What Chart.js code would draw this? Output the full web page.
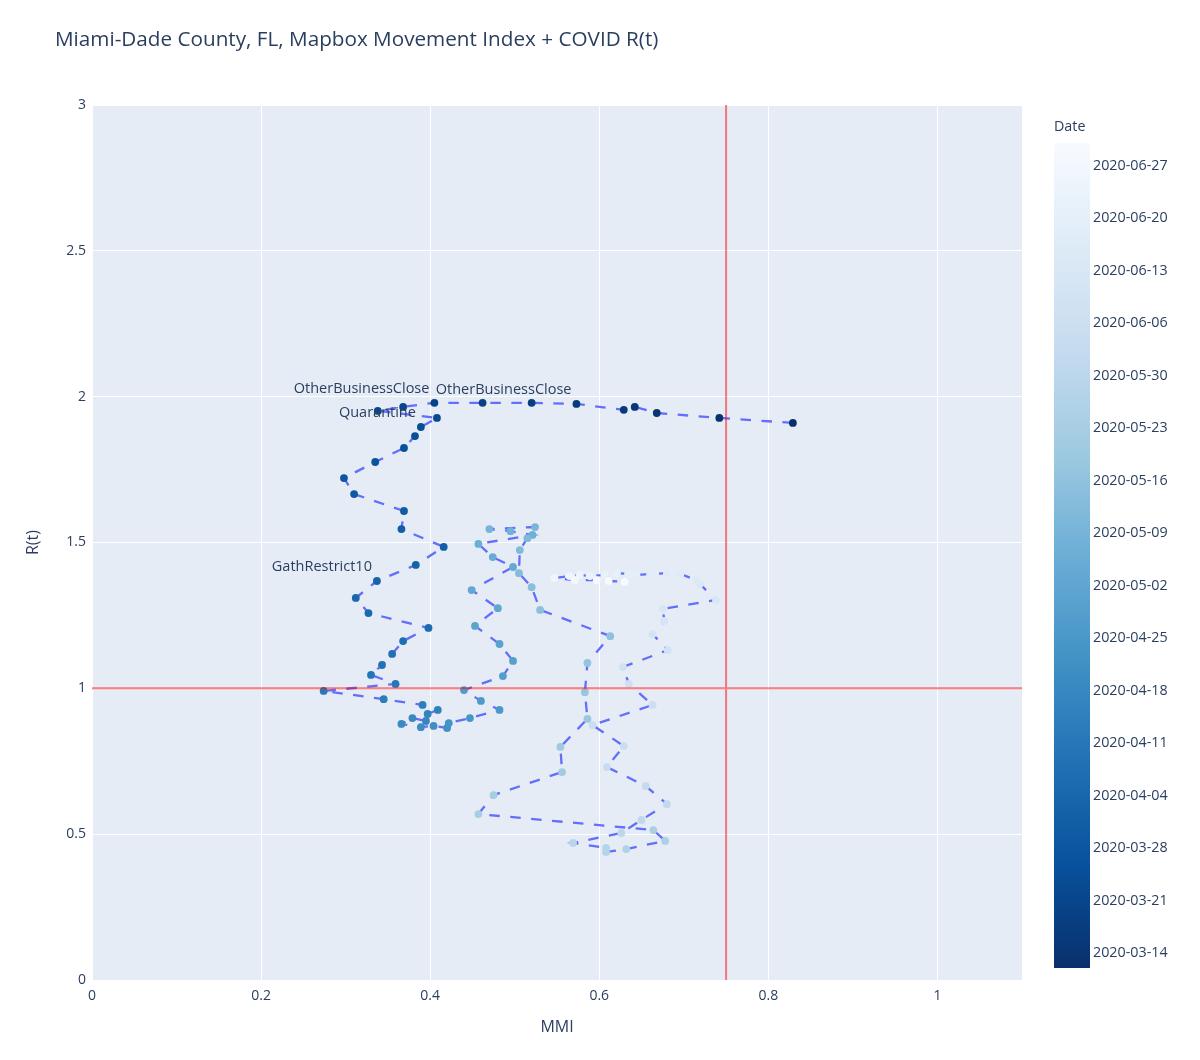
<!DOCTYPE html>
<html>
<head>
<meta charset="utf-8">
<title>Miami-Dade County, FL, Mapbox Movement Index + COVID R(t)</title>
<script src="https://cdn.jsdelivr.net/npm/chart.js@4.4.1/dist/chart.umd.min.js"></script>
<style>
  html, body { margin: 0; padding: 0; background: #fff; }
  #wrap { position: relative; width: 1200px; height: 1060px; }
</style>
</head>
<body>
<div id="wrap"><canvas id="chart" width="1200" height="1060"></canvas></div>
<script>
// one point per day, 2020-03-12 .. 2020-06-30
const dates = [
  "2020-03-12","2020-03-13","2020-03-14","2020-03-15","2020-03-16","2020-03-17","2020-03-18","2020-03-19","2020-03-20","2020-03-21",
  "2020-03-22","2020-03-23","2020-03-24","2020-03-25","2020-03-26","2020-03-27","2020-03-28","2020-03-29","2020-03-30","2020-03-31",
  "2020-04-01","2020-04-02","2020-04-03","2020-04-04","2020-04-05","2020-04-06","2020-04-07","2020-04-08","2020-04-09","2020-04-10",
  "2020-04-11","2020-04-12","2020-04-13","2020-04-14","2020-04-15","2020-04-16","2020-04-17","2020-04-18","2020-04-19","2020-04-20",
  "2020-04-21","2020-04-22","2020-04-23","2020-04-24","2020-04-25","2020-04-26","2020-04-27","2020-04-28","2020-04-29","2020-04-30",
  "2020-05-01","2020-05-02","2020-05-03","2020-05-04","2020-05-05","2020-05-06","2020-05-07","2020-05-08","2020-05-09","2020-05-10",
  "2020-05-11","2020-05-12","2020-05-13","2020-05-14","2020-05-15","2020-05-16","2020-05-17","2020-05-18","2020-05-19","2020-05-20",
  "2020-05-21","2020-05-22","2020-05-23","2020-05-24","2020-05-25","2020-05-26","2020-05-27","2020-05-28","2020-05-29","2020-05-30",
  "2020-05-31","2020-06-01","2020-06-02","2020-06-03","2020-06-04","2020-06-05","2020-06-06","2020-06-07","2020-06-08","2020-06-09",
  "2020-06-10","2020-06-11","2020-06-12","2020-06-13","2020-06-14","2020-06-15","2020-06-16","2020-06-17","2020-06-18","2020-06-19",
  "2020-06-20","2020-06-21","2020-06-22","2020-06-23","2020-06-24","2020-06-25","2020-06-26","2020-06-27","2020-06-28","2020-06-29",
  "2020-06-30"
];

const mmi = [
  0.829,0.742,0.668,0.642,0.629,0.573,0.520,0.462,0.405,0.368,0.338,0.408,0.389,0.382,0.369,0.335,0.298,0.310,0.369,0.366,
  0.416,0.383,0.337,0.312,0.327,0.398,0.368,0.355,0.343,0.330,0.359,0.274,0.345,0.391,0.409,0.397,0.395,0.379,0.366,0.389,
  0.404,0.420,0.422,0.447,0.482,0.460,0.440,0.486,0.498,0.482,0.453,0.480,0.449,0.498,0.474,0.457,0.521,0.495,0.470,0.524,
  0.515,0.506,0.505,0.520,0.530,0.613,0.586,0.583,0.586,0.554,0.556,0.475,0.457,0.664,0.678,0.632,0.608,0.608,0.569,0.626,
  0.650,0.680,0.655,0.609,0.629,0.592,0.663,0.635,0.628,0.681,0.663,0.677,0.675,0.738,0.719,0.715,0.696,0.680,0.660,0.644,
  0.634,0.621,0.606,0.589,0.577,0.565,0.547,0.571,0.597,0.611,0.630
];

const rt = [
  1.910,1.927,1.944,1.965,1.955,1.975,1.979,1.979,1.979,1.965,1.951,1.927,1.896,1.865,1.824,1.776,1.721,1.666,1.608,1.546,
  1.485,1.423,1.368,1.310,1.258,1.207,1.162,1.118,1.080,1.046,1.015,0.991,0.963,0.943,0.926,0.912,0.888,0.898,0.878,0.867,
  0.871,0.864,0.881,0.898,0.926,0.957,0.994,1.042,1.094,1.152,1.214,1.275,1.337,1.416,1.450,1.495,1.526,1.539,1.546,1.553,
  1.515,1.474,1.395,1.347,1.269,1.179,1.087,0.987,0.895,0.799,0.713,0.634,0.569,0.514,0.477,0.449,0.439,0.453,0.470,0.504,
  0.549,0.603,0.665,0.730,0.802,0.874,0.943,1.015,1.073,1.131,1.186,1.231,1.272,1.303,1.358,1.371,1.392,1.395,1.392,1.389,
  1.392,1.395,1.389,1.385,1.389,1.385,1.378,1.371,1.371,1.368,1.365
];

const xTicks = [0, 0.2, 0.4, 0.6, 0.8, 1];
const yTicks = [0, 0.5, 1, 1.5, 2, 2.5, 3];
const cbTicks = [
  "2020-03-14","2020-03-21","2020-03-28","2020-04-04","2020-04-11","2020-04-18","2020-04-25","2020-05-02",
  "2020-05-09","2020-05-16","2020-05-23","2020-05-30","2020-06-06","2020-06-13","2020-06-20","2020-06-27"
];

const annotIndex = [5, 8, 12, 22];
const annotText = ["OtherBusinessClose", "OtherBusinessClose", "Quarantine", "GathRestrict10"];

const refMMI = 0.75;
const refRt = 1;

const INK = "#2a3f5f";
const FONT = '"Open Sans", "Noto Sans", sans-serif';
const blues = [[8,48,107],[8,81,156],[33,113,181],[66,146,198],[107,174,214],[158,202,225],[198,219,239],[222,235,247],[247,251,255]];

function day(s) { return Date.parse(s + "T00:00:00Z") / 864e5; }
const d0 = day(dates[0]), d1 = day(dates[dates.length - 1]);

function blue(t) {
  const p = Math.min(Math.max(t, 0), 1) * (blues.length - 1);
  const i = Math.min(Math.floor(p), blues.length - 2);
  const f = p - i, a = blues[i], b = blues[i + 1];
  const c = k => Math.round(a[k] + (b[k] - a[k]) * f);
  return `rgb(${c(0)},${c(1)},${c(2)})`;
}

const pointColors = dates.map(d => blue((day(d) - d0) / (d1 - d0)));

const cb = { left: 1054, width: 36, top: 143, bottom: 968 };

const decor = {
  id: "decor",
  beforeDraw(chart) {
    const { ctx, chartArea: a } = chart;
    ctx.save();
    ctx.fillStyle = "#fff";
    ctx.fillRect(0, 0, chart.width, chart.height);
    ctx.fillStyle = "#e5ecf6";
    ctx.fillRect(a.left, a.top, a.right - a.left, a.bottom - a.top);
    ctx.restore();
  },
  afterDatasetsDraw(chart) {
    const { ctx, chartArea: a, scales } = chart;
    ctx.save();
    // reference lines
    ctx.strokeStyle = "rgba(255,0,0,0.5)";
    ctx.lineWidth = 2;
    const rx = scales.x.getPixelForValue(refMMI);
    const ry = scales.y.getPixelForValue(refRt);
    ctx.beginPath();
    ctx.moveTo(rx, a.top); ctx.lineTo(rx, a.bottom);
    ctx.moveTo(a.left, ry); ctx.lineTo(a.right, ry);
    ctx.stroke();

    // point labels
    ctx.fillStyle = INK;
    ctx.font = "14.5px " + FONT;
    ctx.textAlign = "right";
    ctx.textBaseline = "middle";
    annotIndex.forEach((idx, k) => {
      const px = scales.x.getPixelForValue(mmi[idx]);
      const py = scales.y.getPixelForValue(rt[idx]);
      ctx.fillText(annotText[k], px - 5, py - 14);
    });
    ctx.restore();
  },
  afterDraw(chart) {
    const { ctx, chartArea: a } = chart;
    ctx.save();
    ctx.fillStyle = INK;
    ctx.textBaseline = "middle";

    ctx.font = "20.7px " + FONT;
    ctx.textAlign = "left";
    ctx.fillText("Miami-Dade County, FL, Mapbox Movement Index + COVID R(t)", 55, 40);

    ctx.font = "16px " + FONT;
    ctx.textAlign = "center";
    ctx.fillText("MMI", (a.left + a.right) / 2, 1027);
    ctx.translate(33, (a.top + a.bottom) / 2);
    ctx.rotate(-Math.PI / 2);
    ctx.fillText("R(t)", 0, 0);
    ctx.setTransform(1, 0, 0, 1, 0, 0);

    // colour bar
    const g = ctx.createLinearGradient(0, cb.bottom, 0, cb.top);
    blues.forEach((c, k) => g.addColorStop(k / (blues.length - 1), `rgb(${c[0]},${c[1]},${c[2]})`));
    ctx.fillStyle = g;
    ctx.fillRect(cb.left, cb.top, cb.width, cb.bottom - cb.top);

    ctx.fillStyle = INK;
    ctx.font = "14.3px " + FONT;
    ctx.textAlign = "left";
    ctx.fillText("Date", cb.left, 127);
    cbTicks.forEach(s => {
      const t = (day(s) - d0) / (d1 - d0);
      const y = cb.bottom - t * (cb.bottom - cb.top);
      ctx.fillText(s, cb.left + cb.width + 3, y);
    });
    ctx.restore();
  }
};

new Chart(document.getElementById("chart"), {
  type: "scatter",
  data: {
    datasets: [{
      label: "MMI vs R(t)",
      data: mmi.map((v, i) => ({ x: v, y: rt[i] })),
      showLine: true,
      borderColor: "#636efa",
      borderWidth: 2.3,
      borderDash: [10.5, 10.5],
      tension: 0,
      pointRadius: 3.9,
      pointBorderWidth: 0,
      pointBackgroundColor: pointColors,
      pointBorderColor: pointColors,
    }]
  },
  options: {
    responsive: false,
    animation: false,
    devicePixelRatio: 1,
    layout: { padding: { left: 0, top: 105, right: 178, bottom: 0 } },
    plugins: { legend: { display: false }, tooltip: { enabled: false }, title: { display: false } },
    scales: {
      x: {
        type: "linear", min: 0, max: 1.1,
        afterBuildTicks: s => { s.ticks = xTicks.map(v => ({ value: v })); },
        afterFit: s => { s.height = 80; },
        grid: { color: "#fff", lineWidth: 1, drawTicks: false },
        border: { display: false },
        ticks: { color: INK, font: { family: FONT, size: 14 }, padding: 8, callback: v => String(v) }
      },
      y: {
        type: "linear", min: 0, max: 3,
        afterBuildTicks: s => { s.ticks = yTicks.map(v => ({ value: v })); },
        afterFit: s => { s.width = 92; },
        grid: { color: "#fff", lineWidth: 1, drawTicks: false },
        border: { display: false },
        ticks: { color: INK, font: { family: FONT, size: 14 }, padding: 6, callback: v => String(v) }
      }
    }
  },
  plugins: [decor]
});
</script>
</body>
</html>
